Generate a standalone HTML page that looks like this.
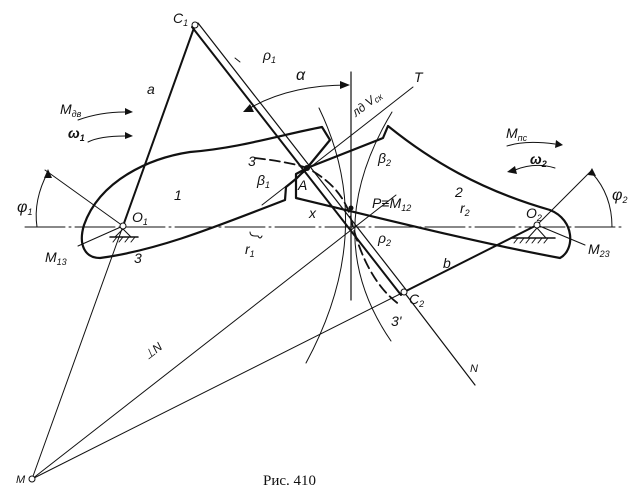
<!DOCTYPE html>
<html><head><meta charset="utf-8"><style>
html,body{margin:0;padding:0;background:#fff;}
svg{display:block}
text{font-family:"Liberation Sans",sans-serif;font-style:italic;fill:#111;}
</style></head><body>
<svg width="643" height="497" viewBox="0 0 643 497" xmlns="http://www.w3.org/2000/svg">
<g fill="none" stroke="#111" stroke-linecap="round">
<!-- axis -->
<line x1="25" y1="227" x2="622" y2="227" stroke-width="1" stroke-dasharray="40,4,2,4"/>
<!-- vertical through P -->
<line x1="351" y1="72" x2="351" y2="300" stroke-width="1.2"/>
<!-- thin lines -->
<line x1="123" y1="226" x2="32" y2="479" stroke-width="1"/>
<line x1="32" y1="479" x2="404" y2="292" stroke-width="1"/>
<line x1="32" y1="479" x2="396" y2="195" stroke-width="1"/>
<line x1="262" y1="205" x2="413" y2="87" stroke-width="1"/>
<line x1="123" y1="226" x2="45" y2="170" stroke-width="1"/>
<line x1="123" y1="226" x2="78" y2="246" stroke-width="1"/>
<line x1="537" y1="225" x2="592" y2="170" stroke-width="1"/>
<line x1="537" y1="225" x2="585" y2="245" stroke-width="1"/>
<line x1="404" y1="292" x2="475" y2="385" stroke-width="1.2"/>
<!-- arcs -->
<path d="M319,108 Q378,230 306,363" stroke-width="1"/>
<path d="M392,112 Q318,235 391,341" stroke-width="1"/>
<!-- dashed 3-3' -->
<path d="M255,158 Q290,162 307,168 Q340,185 350,215 Q365,280 400,305" stroke-width="1.8" stroke-dasharray="10,5"/>
<!-- link a, b -->
<line x1="195" y1="25" x2="123" y2="226" stroke-width="2"/>
<line x1="404" y1="292" x2="537" y2="225" stroke-width="2"/>
<!-- double bar C1-C2 -->
<line x1="192" y1="27" x2="401" y2="295" stroke-width="2"/>
<line x1="198" y1="23" x2="407" y2="291" stroke-width="1.2"/>
<!-- body 1 -->
<path d="M307,168 L330,140 L322,127 C280,135 240,148 190,152 C150,158 100,180 84,225 C78,245 85,258 100,258 C160,250 220,225 285,200 L286,187 L297,178 Z" stroke-width="2.2" stroke-linejoin="round"/>
<!-- body 2 -->
<path d="M307,168 L383,138 L388,126 C430,160 480,190 550,210 C575,220 575,250 560,258 C490,245 420,228 296,198 L296,174 Z" stroke-width="2.2" stroke-linejoin="round"/>
<!-- phi arcs -->
<path d="M37,227 Q33,200 48,172" stroke-width="1"/>
<path d="M612,227 Q612,195 592,173" stroke-width="1"/>
<!-- alpha arc -->
<path d="M250,108 Q290,85 348,85" stroke-width="1"/>
<!-- moment arrows -->
<path d="M78,120 Q100,112 125,112" stroke-width="1"/>
<path d="M88,142 Q100,136 125,136" stroke-width="1"/>
<path d="M507,146 Q525,140 555,144" stroke-width="1"/>
<path d="M515,170 Q535,162 555,168" stroke-width="1"/>
<!-- hinge supports -->
<line x1="110" y1="237" x2="138" y2="237" stroke-width="1.5"/>
<path d="M123,229 L115,237 M123,229 L131,237 M113,242 L117,237 M119,242 L123,237 M125,242 L129,237 M131,242 L135,237" stroke-width="1"/>
<line x1="512" y1="238" x2="555" y2="238" stroke-width="1.5"/>
<path d="M537,228 L528,238 M537,228 L546,238 M514,243 L518,238 M520,243 L524,238 M526,243 L530,238 M532,243 L536,238 M538,243 L542,238 M544,243 L548,238" stroke-width="1"/>
<!-- braces -->
<path d="M250,232 Q250,236 255,236 L258,236 Q260,240 262,236" stroke-width="1"/>
<path d="M235,58 L240,62" stroke-width="1"/>
</g>
<!-- arrowheads -->
<g fill="#111">
<polygon points="125,108 133,112 125,115"/>
<polygon points="125,132 133,136 125,139"/>
<polygon points="556,140 563,145 555,148"/>
<polygon points="515,166 507,172 517,174"/>
<polygon points="44,178 48,169 52,178"/>
<polygon points="588,175 592,168 596,176"/>
<polygon points="340,81 350,85 340,89"/>
<polygon points="250,104 243,112 254,112"/>
</g>
<!-- pivots -->
<g fill="#fff" stroke="#111" stroke-width="1">
<circle cx="123" cy="226" r="3"/><circle cx="537" cy="225" r="3"/>
<circle cx="195" cy="25" r="3"/><circle cx="404" cy="292" r="3"/><circle cx="32" cy="479" r="3"/>
</g>
<circle cx="307" cy="168" r="3" fill="#111"/>
<circle cx="351" cy="208" r="2.5" fill="#111"/>
<g font-size="14">
<text x="173" y="23">C<tspan font-size="9" dy="3">1</tspan></text>
<text x="147" y="94">a</text>
<text x="263" y="60">ρ<tspan font-size="9" dy="3">1</tspan></text>
<text x="296" y="80" font-size="16">α</text>
<text x="60" y="114">M<tspan font-size="9" dy="3">дв</tspan></text>
<text x="68" y="138" font-weight="bold">ω<tspan font-size="9" dy="3">1</tspan></text>
<text x="17" y="212" font-size="16">φ<tspan font-size="9" dy="3">1</tspan></text>
<text x="132" y="222">O<tspan font-size="9" dy="3">1</tspan></text>
<text x="45" y="262">M<tspan font-size="9" dy="3">13</tspan></text>
<text x="134" y="263">3</text>
<text x="174" y="200">1</text>
<text x="245" y="254">r<tspan font-size="9" dy="3">1</tspan></text>
<text x="248" y="166">3</text>
<text x="257" y="185">β<tspan font-size="9" dy="3">1</tspan></text>
<text x="298" y="190">A</text>
<text x="309" y="218">x</text>
<text x="372" y="208">P≡M<tspan font-size="9" dy="3">12</tspan></text>
<text x="378" y="163">β<tspan font-size="9" dy="3">2</tspan></text>
<text x="378" y="243">ρ<tspan font-size="9" dy="3">2</tspan></text>
<text x="356" y="117" transform="rotate(-38 356 117)" font-size="12">лд V<tspan font-size="9" dy="2">ск</tspan></text>
<text x="414" y="82">T</text>
<text x="455" y="197">2</text>
<text x="460" y="213">r<tspan font-size="9" dy="3">2</tspan></text>
<text x="526" y="218">O<tspan font-size="9" dy="3">2</tspan></text>
<text x="506" y="138">M<tspan font-size="9" dy="3">пс</tspan></text>
<text x="530" y="164" font-weight="bold">ω<tspan font-size="9" dy="3">2</tspan></text>
<text x="612" y="200" font-size="16">φ<tspan font-size="9" dy="3">2</tspan></text>
<text x="588" y="254">M<tspan font-size="9" dy="3">23</tspan></text>
<text x="443" y="268">b</text>
<text x="409" y="304">C<tspan font-size="9" dy="3">2</tspan></text>
<text x="391" y="326">3'</text>
<text x="470" y="372" font-size="11">N</text>
<text x="148" y="360" transform="rotate(-38 148 360)" font-size="12">⊥N</text>
<text x="16" y="483" font-size="11">M</text>
</g>
<text x="263" y="485" font-size="15" style="font-style:normal;font-family:'Liberation Serif',serif">Рис. 410</text>
</svg>
</body></html>
